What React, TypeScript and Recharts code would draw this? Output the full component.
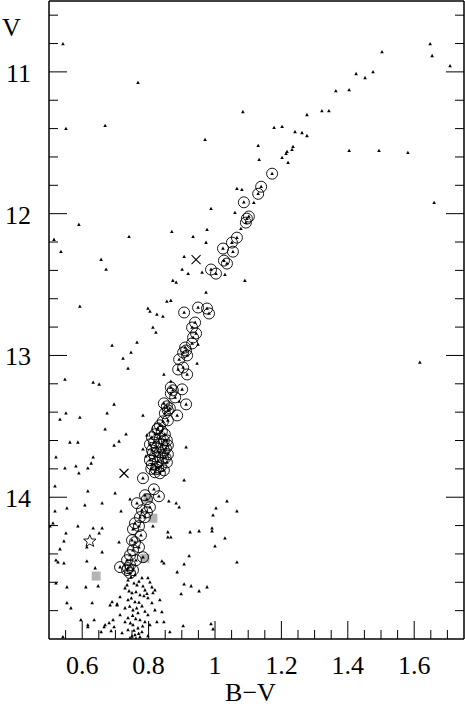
import { ScatterChart, Scatter, XAxis, YAxis } from "recharts";

// field stars (small triangles), [B-V, V]
const fieldStars: [number, number][] = [
  [0.542, 10.803], [0.768, 11.077], [0.551, 11.401], [0.669, 11.38], [0.97, 11.479],
  [1.084, 11.282], [1.364, 11.134], [1.404, 11.127], [1.277, 11.303], [1.322, 11.275],
  [1.343, 11.275], [1.178, 11.394], [1.202, 11.387], [1.241, 11.423], [1.262, 11.43],
  [1.277, 11.451], [1.13, 11.521], [1.235, 11.528], [1.232, 11.549], [1.217, 11.563],
  [1.214, 11.577], [1.133, 11.62], [1.202, 11.606], [1.22, 11.641], [1.404, 11.556],
  [1.494, 11.556], [1.425, 11.014], [1.452, 11.042], [1.476, 11.0], [1.503, 10.859],
  [1.648, 10.803], [1.654, 10.887], [1.708, 10.958], [1.581, 11.57], [1.66, 11.923],
  [1.617, 13.049], [1.066, 11.824], [1.081, 11.831], [1.117, 11.923], [0.988, 11.965],
  [1.06, 11.993], [1.078, 12.106], [0.87, 12.127], [0.976, 12.113], [0.934, 12.162],
  [0.973, 12.204], [0.907, 12.303], [0.901, 12.394], [0.919, 12.423], [0.961, 12.415],
  [1.03, 12.43], [0.873, 12.472], [0.883, 12.486], [1.09, 12.472], [0.973, 12.556],
  [0.855, 12.62], [0.867, 12.613], [0.825, 12.711], [0.843, 12.725], [0.813, 12.803],
  [0.822, 12.838], [0.59, 12.077], [0.515, 12.183], [0.536, 12.268], [0.741, 12.162],
  [0.657, 12.324], [0.672, 12.394], [0.593, 12.655], [0.798, 12.669], [0.804, 12.69],
  [0.949, 12.923], [0.69, 12.93], [0.765, 12.908], [0.747, 12.979], [0.723, 13.021],
  [0.738, 13.092], [0.946, 13.056], [0.846, 13.134], [0.867, 13.183], [0.892, 13.324],
  [0.548, 13.169], [0.633, 13.19], [0.651, 13.204], [0.696, 13.345], [0.551, 13.408],
  [0.533, 13.451], [0.593, 13.437], [0.675, 13.408], [0.783, 13.423], [0.669, 13.521],
  [0.732, 13.556], [0.711, 13.606], [0.696, 13.634], [0.563, 13.613], [0.587, 13.613],
  [0.795, 13.563], [0.783, 13.662], [0.792, 13.711], [0.913, 13.648], [0.521, 13.718],
  [0.633, 13.718], [0.627, 13.761], [0.617, 13.796], [0.581, 13.782], [0.59, 13.831],
  [0.548, 13.796], [0.907, 13.88], [0.518, 13.923], [0.617, 13.958], [0.699, 13.972],
  [0.744, 14.014], [0.66, 14.042], [0.608, 14.056], [0.717, 14.099], [0.518, 14.099],
  [0.554, 14.077], [0.861, 14.028], [0.883, 14.042], [0.892, 14.07], [1.003, 14.077],
  [1.036, 14.028], [1.066, 14.099], [0.994, 14.127], [0.512, 14.183], [0.587, 14.204],
  [0.633, 14.218], [0.66, 14.218], [0.651, 14.254], [0.551, 14.254], [0.503, 14.204],
  [0.813, 14.204], [0.858, 14.246], [0.858, 14.282], [0.867, 14.282], [0.925, 14.246],
  [0.952, 14.239], [0.991, 14.218], [0.991, 14.239], [1.03, 14.289], [1.0, 14.345],
  [0.545, 14.31], [0.533, 14.366], [0.614, 14.352], [0.66, 14.387], [0.711, 14.317],
  [0.521, 14.444], [0.527, 14.458], [0.545, 14.465], [0.614, 14.451], [0.639, 14.5],
  [0.922, 14.415], [1.066, 14.458], [0.84, 14.451], [0.846, 14.465], [0.907, 14.472],
  [0.886, 14.528], [0.798, 14.57], [0.648, 14.627], [0.521, 14.606], [0.554, 14.634],
  [0.611, 14.634], [0.81, 14.634], [0.813, 14.676], [0.907, 14.613], [0.928, 14.627],
  [0.952, 14.662], [0.976, 14.634], [0.898, 14.683], [0.554, 14.746], [0.566, 14.782],
  [0.63, 14.746], [0.69, 14.739], [0.705, 14.754], [0.596, 14.866], [0.617, 14.901],
  [0.617, 14.915], [0.636, 14.866], [0.657, 14.951], [0.666, 14.915], [0.681, 14.887],
  [0.687, 14.944], [0.696, 14.915], [0.825, 14.88], [0.846, 14.88], [0.864, 14.951],
  [0.904, 14.908], [0.988, 14.894], [0.994, 14.93], [0.798, 14.979], [0.542, 14.986],
  [0.759, 14.549], [0.78, 14.57], [0.738, 14.585], [0.804, 14.599], [0.765, 14.62],
  [0.729, 14.641], [0.789, 14.655], [0.819, 14.655], [0.75, 14.676], [0.774, 14.69],
  [0.714, 14.704], [0.798, 14.711], [0.738, 14.725], [0.759, 14.739], [0.81, 14.746],
  [0.705, 14.761], [0.78, 14.768], [0.729, 14.782], [0.753, 14.796], [0.819, 14.796],
  [0.768, 14.817], [0.714, 14.831], [0.798, 14.831], [0.738, 14.852], [0.774, 14.866],
  [0.789, 14.88], [0.729, 14.88], [0.753, 14.901], [0.804, 14.901], [0.768, 14.923],
  [0.738, 14.937], [0.78, 14.951], [0.72, 14.958], [0.759, 14.972], [0.774, 14.986],
  [0.744, 14.993], [0.684, 14.761], [0.693, 14.866], [0.669, 14.901], [0.834, 14.725],
  [0.84, 14.81], [0.747, 14.562], [0.771, 14.594], [0.756, 14.607], [0.783, 14.628],
  [0.741, 14.662], [0.762, 14.668], [0.786, 14.697], [0.748, 14.712], [0.771, 14.742],
  [0.743, 14.771], [0.764, 14.783], [0.789, 14.806], [0.752, 14.835], [0.761, 14.858],
  [0.745, 14.888], [0.782, 14.91], [0.756, 14.94], [0.77, 14.962], [0.75, 14.981],
  [0.762, 14.996], [0.735, 14.62], [0.795, 14.68],
];

// cluster members (open circles)
const members: [number, number][] = [
  [1.172, 11.718], [1.139, 11.81], [1.13, 11.86], [1.087, 11.92], [1.096, 12.035],
  [1.102, 12.02], [1.093, 12.063], [1.066, 12.169], [1.051, 12.204], [1.024, 12.246],
  [1.054, 12.268], [1.027, 12.331], [1.036, 12.352], [0.988, 12.394], [1.003, 12.423],
  [0.949, 12.662], [0.976, 12.669], [0.982, 12.704], [0.907, 12.697], [0.94, 12.768],
  [0.931, 12.803], [0.943, 12.845], [0.934, 12.873], [0.931, 12.915], [0.91, 12.944],
  [0.913, 12.965], [0.904, 12.979], [0.916, 13.0], [0.892, 13.028], [0.889, 13.099],
  [0.904, 13.085], [0.916, 13.134], [0.867, 13.225], [0.873, 13.246], [0.901, 13.239],
  [0.867, 13.268], [0.88, 13.296], [0.913, 13.345], [0.846, 13.338], [0.855, 13.359],
  [0.858, 13.387], [0.864, 13.373], [0.886, 13.423], [0.849, 13.408], [0.858, 13.458],
  [0.843, 13.465], [0.834, 13.493], [0.828, 13.514], [0.84, 13.535], [0.819, 13.556],
  [0.849, 13.556], [0.81, 13.577], [0.834, 13.585], [0.855, 13.599], [0.816, 13.613],
  [0.84, 13.627], [0.825, 13.648], [0.852, 13.655], [0.81, 13.669], [0.834, 13.683],
  [0.858, 13.697], [0.819, 13.711], [0.843, 13.725], [0.828, 13.746], [0.855, 13.754],
  [0.81, 13.768], [0.837, 13.782], [0.822, 13.803], [0.846, 13.81], [0.819, 13.824],
  [0.834, 13.831], [0.804, 13.739], [0.858, 13.634], [0.804, 13.627], [0.783, 13.866],
  [0.816, 13.944], [0.831, 13.993], [0.789, 13.986], [0.795, 14.014], [0.765, 14.042],
  [0.78, 14.092], [0.795, 14.106], [0.804, 14.07], [0.774, 14.141], [0.789, 14.141],
  [0.759, 14.183], [0.771, 14.204], [0.753, 14.225], [0.777, 14.268], [0.75, 14.303],
  [0.759, 14.317], [0.771, 14.352], [0.753, 14.373], [0.744, 14.408], [0.783, 14.423],
  [0.735, 14.444], [0.762, 14.444], [0.744, 14.479], [0.714, 14.493], [0.738, 14.5],
  [0.753, 14.514], [0.735, 14.514], [0.744, 14.535], [0.826, 13.52], [0.846, 13.6],
  [0.813, 13.69], [0.851, 13.72], [0.829, 13.79], [0.808, 13.8], [0.846, 13.67],
];

const crosses: [number, number][] = [[0.943, 12.324], [0.726, 13.831]];
const starMark: [number, number][] = [[0.623, 14.31]];
const graySquares: [number, number][] = [
  [0.798, 14.007], [0.813, 14.148], [0.789, 14.43], [0.642, 14.556],
];

const xMajorTicks = [0.6, 0.8, 1, 1.2, 1.4, 1.6];
const xMinorTicks = [
  0.55, 0.65, 0.7, 0.75, 0.85, 0.9, 0.95, 1.05, 1.1, 1.15, 1.25, 1.3, 1.35,
  1.45, 1.5, 1.55, 1.65, 1.7,
];
const yMajorTicks = [11, 12, 13, 14];
const yMinorTicks = [
  10.6, 10.8, 11.2, 11.4, 11.6, 11.8, 12.2, 12.4, 12.6, 12.8, 13.2, 13.4, 13.6,
  13.8, 14.2, 14.4, 14.6, 14.8,
];

const toPts = (arr: [number, number][]) => arr.map(([bv, v]) => ({ bv, v }));

const TEXT_STYLE = {
  fontFamily: "'Liberation Serif', 'Times New Roman', serif",
  fontSize: 26,
  fill: "#000",
};
const xTicks = [...xMajorTicks, ...xMinorTicks].sort((a, b) => a - b);
const yTicks = [...yMajorTicks, ...yMinorTicks].sort((a, b) => a - b);

function Tri({ cx, cy }: any) {
  return (
    <polygon
      points={`${cx},${cy - 2} ${cx - 1.8},${cy + 1.3} ${cx + 1.8},${cy + 1.3}`}
      fill="#000"
    />
  );
}

function Member({ cx, cy }: any) {
  return (
    <g>
      <circle cx={cx} cy={cy} r={5.5} fill="none" stroke="#000" strokeWidth={0.9} />
      <Tri cx={cx} cy={cy} />
    </g>
  );
}

function Cross({ cx, cy }: any) {
  const s = 4.5;
  return (
    <g stroke="#000" strokeWidth={1.1}>
      <line x1={cx - s} y1={cy - s} x2={cx + s} y2={cy + s} />
      <line x1={cx - s} y1={cy + s} x2={cx + s} y2={cy - s} />
    </g>
  );
}

function Star({ cx, cy }: any) {
  const pts: string[] = [];
  for (let i = 0; i < 10; i++) {
    const r = i % 2 === 0 ? 6.5 : 2.8;
    const a = -Math.PI / 2 + (i * Math.PI) / 5;
    pts.push(`${cx + r * Math.cos(a)},${cy + r * Math.sin(a)}`);
  }
  return <polygon points={pts.join(" ")} fill="none" stroke="#000" strokeWidth={0.9} />;
}

function Square({ cx, cy }: any) {
  return <rect x={cx - 4.5} y={cy - 4.5} width={9} height={9} fill="#b4b4b4" />;
}

function BottomTick({ x, y, payload }: any) {
  const major = xMajorTicks.includes(payload.value);
  return (
    <g>
      <line x1={x} y1={y} x2={x} y2={y - (major ? 18 : 9)} stroke="#000" />
      {major && (
        <text x={x} y={y + 35} textAnchor="middle" style={TEXT_STYLE}>
          {String(payload.value)}
        </text>
      )}
    </g>
  );
}

function TopTick({ x, y, payload }: any) {
  const major = xMajorTicks.includes(payload.value);
  return <line x1={x} y1={y} x2={x} y2={y + (major ? 18 : 9)} stroke="#000" />;
}

function LeftTick({ x, y, payload }: any) {
  const major = yMajorTicks.includes(payload.value);
  return (
    <g>
      <line x1={x} y1={y} x2={x + (major ? 18 : 9)} y2={y} stroke="#000" />
      {major && (
        <text x={x - 18} y={y + 10} textAnchor="end" style={TEXT_STYLE}>
          {String(payload.value)}
        </text>
      )}
    </g>
  );
}

function RightTick({ x, y, payload }: any) {
  const major = yMajorTicks.includes(payload.value);
  return <line x1={x} y1={y} x2={x - (major ? 18 : 9)} y2={y} stroke="#000" />;
}

export default function App() {
  const axisLine = { stroke: "#000", strokeWidth: 1.5 };
  return (
    <div style={{ position: "absolute", left: 0, top: 0, background: "#fff" }}>
      <ScatterChart width={465} height={706} margin={{ top: 0, right: 0, bottom: 0, left: 0 }}>
        <XAxis
          xAxisId="b"
          dataKey="bv"
          type="number"
          domain={[0.5, 1.75]}
          allowDataOverflow
          ticks={xTicks}
          interval={0}
          tickSize={0}
          tickMargin={0}
          tickLine={false}
          axisLine={axisLine}
          height={67}
          tick={(p: any) => <BottomTick {...p} />}
          label={(p: any) => {
            const vb = p.viewBox || { x: 49, y: 639, width: 415 };
            return (
              <text x={vb.x + vb.width / 2 - 6} y={vb.y + 62} textAnchor="middle" style={TEXT_STYLE}>
                B−V
              </text>
            );
          }}
        />
        <XAxis
          xAxisId="t"
          orientation="top"
          type="number"
          domain={[0.5, 1.75]}
          allowDataOverflow
          ticks={xTicks}
          interval={0}
          tickSize={0}
          tickMargin={0}
          tickLine={false}
          axisLine={axisLine}
          height={1}
          tick={(p: any) => <TopTick {...p} />}
        />
        <YAxis
          yAxisId="l"
          dataKey="v"
          type="number"
          domain={[10.5, 15]}
          reversed
          allowDataOverflow
          ticks={yTicks}
          interval={0}
          tickSize={0}
          tickMargin={0}
          tickLine={false}
          axisLine={axisLine}
          width={49}
          tick={(p: any) => <LeftTick {...p} />}
          label={(p: any) => {
            const vb = p.viewBox || { x: 0, y: 1 };
            return (
              <text x={vb.x + 2} y={vb.y + 35} style={TEXT_STYLE}>
                V
              </text>
            );
          }}
        />
        <YAxis
          yAxisId="r"
          orientation="right"
          type="number"
          domain={[10.5, 15]}
          reversed
          allowDataOverflow
          ticks={yTicks}
          interval={0}
          tickSize={0}
          tickMargin={0}
          tickLine={false}
          axisLine={axisLine}
          width={1}
          tick={(p: any) => <RightTick {...p} />}
        />
        <Scatter xAxisId="b" yAxisId="l" data={toPts(graySquares)} shape={(p: any) => <Square {...p} />} isAnimationActive={false} />
        <Scatter xAxisId="b" yAxisId="l" data={toPts(fieldStars)} shape={(p: any) => <Tri {...p} />} isAnimationActive={false} />
        <Scatter xAxisId="b" yAxisId="l" data={toPts(members)} shape={(p: any) => <Member {...p} />} isAnimationActive={false} />
        <Scatter xAxisId="b" yAxisId="l" data={toPts(crosses)} shape={(p: any) => <Cross {...p} />} isAnimationActive={false} />
        <Scatter xAxisId="b" yAxisId="l" data={toPts(starMark)} shape={(p: any) => <Star {...p} />} isAnimationActive={false} />
      </ScatterChart>
    </div>
  );
}
